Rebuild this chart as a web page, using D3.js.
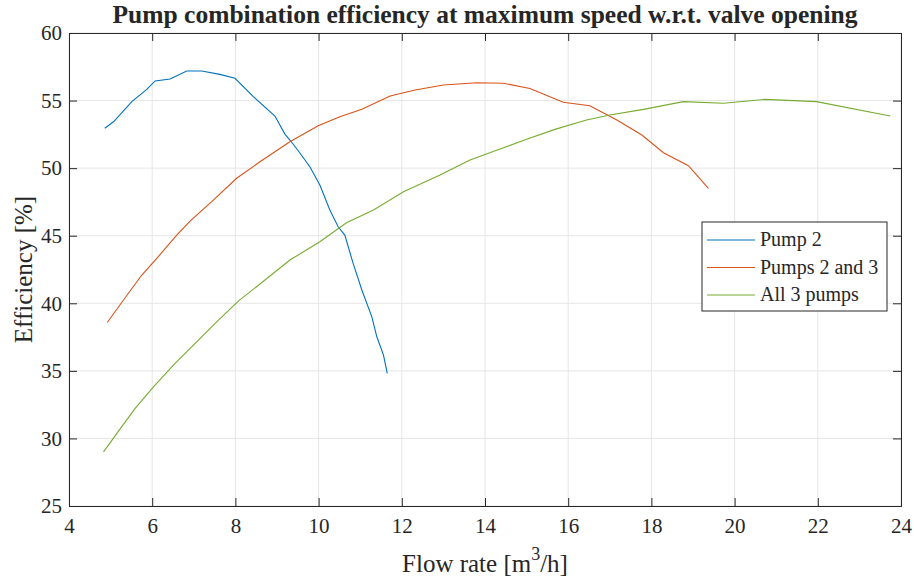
<!DOCTYPE html>
<html>
<head>
<meta charset="utf-8">
<script src="https://cdn.jsdelivr.net/npm/d3@7"></script>
<style>
  body { margin: 0; background: #fff; }
  svg text { font-family: "Liberation Serif", "Times New Roman", serif; fill: #262626; }
</style>
</head>
<body>
<div id="chart"></div>
<script>
// flow rate [m3/h] and efficiency [%]
const pump2Flow = [4.86, 5.07, 5.51, 5.87, 6.07, 6.43, 6.83, 7.19, 7.63, 7.99, 8.43, 8.95, 9.19, 9.31, 9.51, 9.79, 10.03, 10.27, 10.47, 10.63, 10.83, 11.04, 11.28, 11.40, 11.56, 11.65];
const pump2Eff  = [52.95, 53.43, 54.92, 55.83, 56.45, 56.6, 57.19, 57.19, 56.94, 56.65, 55.29, 53.86, 52.52, 52.08, 51.29, 50.1, 48.75, 46.9, 45.66, 45.05, 42.95, 40.98, 39.0, 37.52, 36.17, 34.81];

const pumps23Flow = [4.92, 5.31, 5.75, 6.11, 6.59, 6.91, 7.47, 8.03, 8.59, 9.31, 9.99, 10.51, 11.04, 11.72, 12.32, 13.0, 13.8, 14.44, 15.08, 15.88, 16.52, 17.17, 17.77, 18.29, 18.89, 19.37];
const pumps23Eff  = [38.58, 40.24, 42.09, 43.32, 45.05, 46.08, 47.64, 49.25, 50.47, 51.95, 53.13, 53.8, 54.35, 55.34, 55.78, 56.15, 56.32, 56.28, 55.9, 54.87, 54.62, 53.56, 52.45, 51.14, 50.18, 48.5];

const all3Flow = [4.83, 5.15, 5.59, 6.03, 6.55, 7.07, 7.55, 8.07, 8.71, 9.31, 10.03, 10.67, 11.32, 12.04, 12.92, 13.64, 14.36, 15.0, 15.68, 16.44, 17.0, 17.81, 18.77, 19.73, 20.73, 21.97, 23.74];
const all3Eff  = [29.01, 30.37, 32.22, 33.82, 35.55, 37.15, 38.63, 40.16, 41.72, 43.2, 44.55, 45.96, 46.9, 48.26, 49.49, 50.6, 51.41, 52.13, 52.87, 53.56, 53.93, 54.35, 54.92, 54.8, 55.09, 54.92, 53.86];

const seriesNames = ["Pump 2", "Pumps 2 and 3", "All 3 pumps"];
const seriesColors = ["#0072BD", "#D95319", "#77AC30"];
const xTicks = [4, 6, 8, 10, 12, 14, 16, 18, 20, 22, 24];
const yTicks = [25, 30, 35, 40, 45, 50, 55, 60];

const series = [
  pump2Flow.map((f, i) => ({ x: f, y: pump2Eff[i] })),
  pumps23Flow.map((f, i) => ({ x: f, y: pumps23Eff[i] })),
  all3Flow.map((f, i) => ({ x: f, y: all3Eff[i] }))
];

const W = 914, H = 582;
const margin = { top: 33, right: 13, bottom: 76, left: 69 };
const innerW = W - margin.left - margin.right,
  innerH = H - margin.top - margin.bottom;

const svg = d3.select("#chart").append("svg")
  .attr("width", W).attr("height", H);

const x = d3.scaleLinear().domain([4, 24]).range([0, innerW]);
const y = d3.scaleLinear().domain([25, 60]).range([innerH, 0]);

const g = svg.append("g")
  .attr("transform", "translate(" + margin.left + "," + margin.top + ")");

// grid
g.append("g").selectAll("line").data(xTicks).join("line")
  .attr("x1", d => x(d)).attr("x2", d => x(d))
  .attr("y1", 0).attr("y2", innerH)
  .attr("stroke", "#e6e6e6").attr("stroke-width", 1);
g.append("g").selectAll("line").data(yTicks).join("line")
  .attr("y1", d => y(d)).attr("y2", d => y(d))
  .attr("x1", 0).attr("x2", innerW)
  .attr("stroke", "#e6e6e6").attr("stroke-width", 1);

// lines
const line = d3.line().x(d => x(d.x)).y(d => y(d.y));
series.forEach((s, i) => {
  g.append("path").datum(s)
    .attr("fill", "none")
    .attr("stroke", seriesColors[i])
    .attr("stroke-width", 1.1)
    .attr("d", line);
});

// axes (ticks pointing inward, like matlab)
const xAxis = d3.axisBottom(x).tickValues(xTicks).tickSize(-8).tickPadding(12);
const yAxis = d3.axisLeft(y).tickValues(yTicks).tickSize(-8).tickPadding(7);
const xAxisTop = d3.axisTop(x).tickValues(xTicks).tickSize(-8).tickFormat("");
const yAxisRight = d3.axisRight(y).tickValues(yTicks).tickSize(-8).tickFormat("");

function styleAxis(sel) {
  sel.select(".domain").attr("stroke", "#262626");
  sel.selectAll(".tick line").attr("stroke", "#262626");
  sel.selectAll(".tick text")
    .style("font-family", '"Liberation Serif", serif')
    .style("font-size", "21px")
    .attr("fill", "#262626");
}

g.append("g").attr("transform", "translate(0," + innerH + ")").call(xAxis).call(styleAxis);
g.append("g").call(yAxis).call(styleAxis);
g.append("g").call(xAxisTop).call(styleAxis);
g.append("g").attr("transform", "translate(" + innerW + ",0)").call(yAxisRight).call(styleAxis);

// title and labels
svg.append("text")
  .attr("x", margin.left + innerW / 2).attr("y", 23)
  .attr("text-anchor", "middle")
  .style("font-size", "25px").style("font-weight", "bold")
  .attr("textLength", 745).attr("lengthAdjust", "spacingAndGlyphs")
  .attr("fill", "#000")
  .text("Pump combination efficiency at maximum speed w.r.t. valve opening");

const xl = svg.append("text")
  .attr("x", margin.left + innerW / 2).attr("y", 572)
  .attr("text-anchor", "middle")
  .style("font-size", "25px");
xl.append("tspan").text("Flow rate [m");
xl.append("tspan").attr("dy", -12).style("font-size", "18px").text("3");
xl.append("tspan").attr("dy", 12).text("/h]");

svg.append("text")
  .attr("transform", "translate(32," + (margin.top + innerH / 2) + ") rotate(-90)")
  .attr("text-anchor", "middle")
  .style("font-size", "25px")
  .text("Efficiency [%]");

// legend
const lg = svg.append("g").attr("transform", "translate(702,222)");
lg.append("rect")
  .attr("width", 185).attr("height", 89)
  .attr("fill", "#fff").attr("stroke", "#262626").attr("stroke-width", 1);
seriesNames.forEach((name, i) => {
  const yy = 18 + i * 27.5;
  lg.append("line")
    .attr("x1", 5).attr("x2", 53).attr("y1", yy).attr("y2", yy)
    .attr("stroke", seriesColors[i]).attr("stroke-width", 1.1);
  lg.append("text")
    .attr("x", 58).attr("y", yy + 6)
    .style("font-size", "20px")
    .attr("fill", "#000")
    .text(name);
});
</script>
</body>
</html>
